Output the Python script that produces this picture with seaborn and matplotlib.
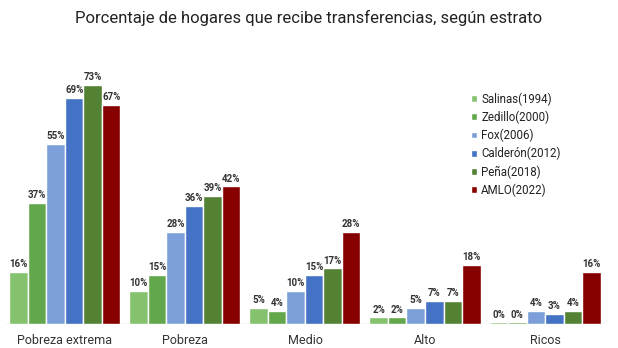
import matplotlib
matplotlib.use("Agg")
import matplotlib.pyplot as plt
import seaborn as sns
import pandas as pd

categories = ["Pobreza extrema", "Pobreza", "Medio", "Alto", "Ricos"]
series = ["Salinas(1994)", "Zedillo(2000)", "Fox(2006)", "Calderón(2012)", "Peña(2018)", "AMLO(2022)"]
salinas = [16, 10, 5, 2, 0.5]
zedillo = [37, 15, 4, 2, 0.5]
fox = [55, 28, 10, 5, 4]
calderon = [69, 36, 15, 7, 3]
pena = [73, 39, 17, 7, 4]
amlo = [67, 42, 28, 18, 16]
colors = ["#84c26e", "#62a84a", "#7c9fd9", "#4472c4", "#548235", "#870000"]

values = [salinas, zedillo, fox, calderon, pena, amlo]
rows = []
for s, vals in zip(series, values):
    for c, v in zip(categories, vals):
        rows.append({"estrato": c, "serie": s, "valor": v})
df = pd.DataFrame(rows)

sns.set_style("white")
plt.rcParams['font.family'] = ['Roboto', 'DejaVu Sans']

fig = plt.figure(figsize=(6.18, 3.48), dpi=100)
ax = fig.add_axes([0.008, 0.069, 0.971, 0.753])
sns.barplot(data=df, x="estrato", y="valor", hue="serie", order=categories,
            hue_order=series, palette=colors, width=0.925, saturation=1,
            gap=0, ax=ax, legend=True)
for cont in ax.containers:
    ax.bar_label(cont, fmt="{:.0f}%", fontsize=7, fontweight="bold",
                 color="#333333", padding=2)
ax.set_ylim(0, 80)
ax.set_xlim(-0.5, 4.5)
ax.axhline(0, color="#d9d9d9", lw=1, zorder=0)
ax.set_xlabel("")
ax.set_ylabel("")
ax.set_yticks([])
ax.tick_params(axis="x", length=0, labelsize=9, colors="#333333", pad=7)
for sp in ax.spines.values():
    sp.set_visible(False)

handles, labels = ax.get_legend_handles_labels()
ax.legend(handles, labels, loc="upper left", bbox_to_anchor=(0.745, 0.765),
          bbox_transform=fig.transFigure, frameon=False, fontsize=8.3,
          handlelength=0.55, handleheight=0.55, handletextpad=0.35,
          labelspacing=0.42, labelcolor="#222222")

fig.text(0.5, 0.948, "Porcentaje de hogares que recibe transferencias, según estrato",
         ha="center", va="center", fontsize=12, color="#222222")

fig.savefig("out.png", dpi=100)
